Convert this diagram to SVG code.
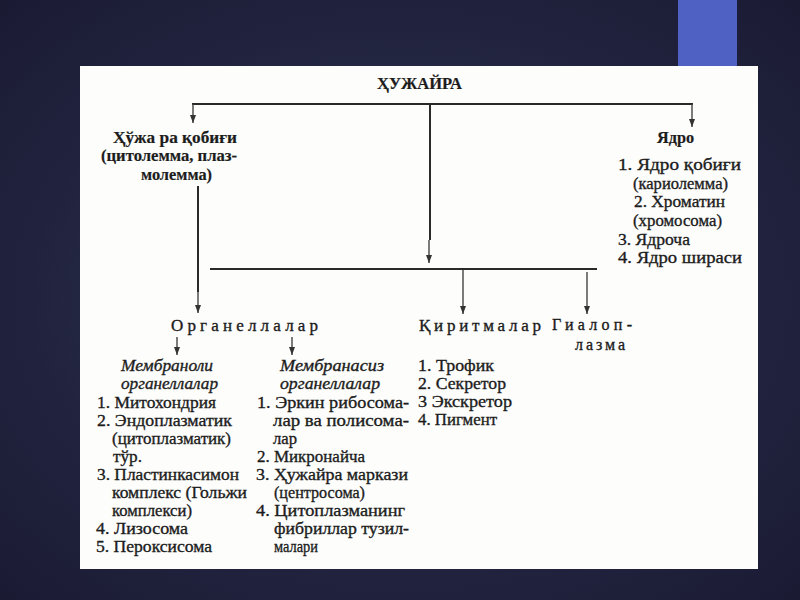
<svg xmlns="http://www.w3.org/2000/svg" width="800" height="600" viewBox="0 0 800 600">
<defs>
<radialGradient id="bg" cx="50%" cy="50%" r="70%">
<stop offset="0" stop-color="#2f3554"/>
<stop offset="1" stop-color="#1a1a33"/>
</radialGradient>
<marker id="ar" viewBox="0 0 8 6" refX="8" refY="3" markerWidth="8" markerHeight="6" markerUnits="userSpaceOnUse" orient="auto">
<path d="M0,0 L8,3 L0,6 Z" fill="#333"/>
</marker>
<style>
.t{font-family:"Liberation Serif","DejaVu Serif",serif;font-size:17px;fill:#1c1c1c;stroke:#1c1c1c;stroke-width:0.35px}
.b{font-weight:bold;stroke-width:0.2px}
.i{font-style:italic}
.s{font-size:16px}
.ln{stroke:#2a2a2a;stroke-width:2;fill:none}
.dn{stroke:#444;stroke-width:1.4;fill:none}
</style>
</defs>
<rect width="800" height="600" fill="url(#bg)"/>
<rect x="678" y="0" width="59" height="66" fill="#4f62c4"/>
<rect x="80" y="66" width="678" height="503" fill="#fdfdfb"/>

<g id="connectors">
<line class="ln" x1="192" y1="104" x2="693" y2="104"/>
<line class="dn" x1="193" y1="104" x2="193" y2="123" marker-end="url(#ar)"/>
<line class="dn" x1="692" y1="104" x2="692" y2="127" marker-end="url(#ar)"/>
<line class="ln" x1="430" y1="104" x2="430" y2="240"/>
<line class="dn" x1="429" y1="240" x2="429" y2="263" marker-end="url(#ar)"/>
<line class="ln" x1="198" y1="186" x2="198" y2="292"/>
<line class="dn" x1="198" y1="292" x2="198" y2="313" marker-end="url(#ar)"/>
<line class="ln" x1="210" y1="269" x2="597" y2="269"/>
<line class="dn" x1="463" y1="270" x2="463" y2="314" marker-end="url(#ar)"/>
<line class="dn" x1="587" y1="272" x2="587" y2="314" marker-end="url(#ar)"/>
<line class="dn" x1="177" y1="337" x2="177" y2="355" marker-end="url(#ar)"/>
<line class="dn" x1="292" y1="337" x2="292" y2="355" marker-end="url(#ar)"/>
</g>

<g id="root">
<text class="t b" x="377" y="89" textLength="85" lengthAdjust="spacingAndGlyphs">ҲУЖАЙРА</text>
</g>

<g id="membrane">
<text class="t b" x="113" y="143" textLength="124" lengthAdjust="spacingAndGlyphs">Ҳўжа ра қобиғи</text>
<text class="t b" x="101" y="161" textLength="136" lengthAdjust="spacingAndGlyphs">(цитолемма, плаз-</text>
<text class="t b" x="141" y="180" textLength="71" lengthAdjust="spacingAndGlyphs">молемма)</text>
</g>

<g id="nucleus">
<text class="t b" x="657" y="143" textLength="37" lengthAdjust="spacingAndGlyphs">Ядро</text>
<text class="t" x="618" y="170" textLength="123" lengthAdjust="spacingAndGlyphs">1. Ядро  қобиғи</text>
<text class="t" x="633" y="189" textLength="95" lengthAdjust="spacingAndGlyphs">(кариолемма)</text>
<text class="t" x="634" y="207" textLength="91" lengthAdjust="spacingAndGlyphs">2. Хроматин</text>
<text class="t" x="633" y="226" textLength="89" lengthAdjust="spacingAndGlyphs">(хромосома)</text>
<text class="t" x="618" y="245" textLength="72" lengthAdjust="spacingAndGlyphs">3. Ядроча</text>
<text class="t" x="618" y="263" textLength="124" lengthAdjust="spacingAndGlyphs">4. Ядро  шираси</text>
</g>

<g id="organelles">
<text class="t" x="171" y="331" textLength="147">Органеллалар</text>
</g>

<g id="inclusions">
<text class="t" x="419" y="331" textLength="122">Қиритмалар</text>
<text class="t" x="418" y="371" textLength="76" lengthAdjust="spacingAndGlyphs">1. Трофик</text>
<text class="t" x="418" y="389" textLength="88" lengthAdjust="spacingAndGlyphs">2. Секретор</text>
<text class="t" x="418" y="407" textLength="94" lengthAdjust="spacingAndGlyphs">3  Экскретор</text>
<text class="t" x="418" y="425" textLength="79" lengthAdjust="spacingAndGlyphs">4. Пигмент</text>
</g>

<g id="hyaloplasm">
<text class="t s" x="552" y="330" textLength="80">Гиалоп-</text>
<text class="t s" x="575" y="350" textLength="50">лазма</text>
</g>

<g id="membranous">
<text class="t i" x="121" y="371" textLength="92" lengthAdjust="spacingAndGlyphs">Мембраноли</text>
<text class="t i" x="121" y="389" textLength="97" lengthAdjust="spacingAndGlyphs">органеллалар</text>
<text class="t" x="97" y="408" textLength="119" lengthAdjust="spacingAndGlyphs">1.  Митохондрия</text>
<text class="t" x="97" y="426" textLength="135" lengthAdjust="spacingAndGlyphs">2.  Эндоплазматик</text>
<text class="t" x="112" y="444" textLength="119" lengthAdjust="spacingAndGlyphs">(цитоплазматик)</text>
<text class="t" x="113" y="462" textLength="29" lengthAdjust="spacingAndGlyphs">тўр.</text>
<text class="t" x="97" y="480" textLength="142" lengthAdjust="spacingAndGlyphs">3.  Пластинкасимон</text>
<text class="t" x="112" y="498" textLength="135" lengthAdjust="spacingAndGlyphs">комплекс (Гольжи</text>
<text class="t" x="112" y="516" textLength="80" lengthAdjust="spacingAndGlyphs">комплекси)</text>
<text class="t" x="96" y="534" textLength="92" lengthAdjust="spacingAndGlyphs">4.  Лизосома</text>
<text class="t" x="96" y="552" textLength="116" lengthAdjust="spacingAndGlyphs">5.  Пероксисома</text>
</g>

<g id="nonmembranous">
<text class="t i" x="280" y="371" textLength="104" lengthAdjust="spacingAndGlyphs">Мембранасиз</text>
<text class="t i" x="280" y="389" textLength="100" lengthAdjust="spacingAndGlyphs">органеллалар</text>
<text class="t" x="257" y="408" textLength="152" lengthAdjust="spacingAndGlyphs">1.  Эркин  рибосома-</text>
<text class="t" x="273" y="426" textLength="136" lengthAdjust="spacingAndGlyphs">лар  ва  полисома-</text>
<text class="t" x="273" y="444" textLength="24" lengthAdjust="spacingAndGlyphs">лар</text>
<text class="t" x="257" y="462" textLength="108" lengthAdjust="spacingAndGlyphs">2.  Микронайча</text>
<text class="t" x="256" y="480" textLength="152" lengthAdjust="spacingAndGlyphs">3.  Ҳужайра  маркази</text>
<text class="t" x="274" y="498" textLength="91" lengthAdjust="spacingAndGlyphs">(центросома)</text>
<text class="t" x="256" y="516" textLength="149" lengthAdjust="spacingAndGlyphs">4.  Цитоплазманинг</text>
<text class="t" x="274" y="534" textLength="135" lengthAdjust="spacingAndGlyphs">фибриллар  тузил-</text>
<text class="t" x="274" y="552" textLength="44" lengthAdjust="spacingAndGlyphs">малари</text>
</g>
</svg>
